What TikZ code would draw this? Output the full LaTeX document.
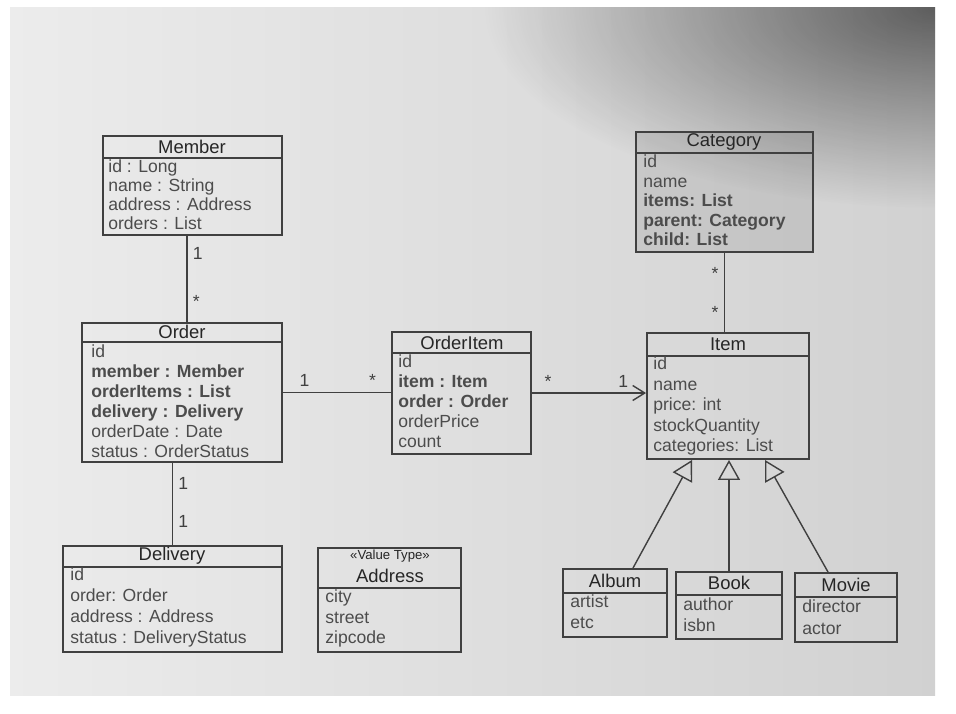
\documentclass[tikz,border=0pt]{standalone}
\usepackage{fontspec}
\setmainfont{Liberation Sans}
\usetikzlibrary{arrows.meta}
\usetikzlibrary{calc}
\usetikzlibrary{fit}
\usetikzlibrary{fadings}
\tikzfading[name=corner dark, inner color=transparent!0, outer color=transparent!100]

\begin{document}
\begin{tikzpicture}[x=0.02cm, y=-0.02cm,
    cls/.style={draw=black!75, line width=1.1pt, inner sep=0pt},
    ttl/.style={inner sep=0pt, text=black!85, font=\fontsize{10.5}{12}\selectfont},
    att/.style={anchor=west, inner sep=0pt, text height=7.5pt, text depth=2pt, text=black!70, font=\fontsize{10}{12}\selectfont},
    mult/.style={inner sep=3pt, text=black!75, font=\fontsize{10}{12}\selectfont},
    link/.style={draw=black!75, line width=0.8pt},
    gen/.style={link, -{Triangle[open, length=4mm, width=4.4mm]}},
    nav/.style={link, -{Straight Barb[length=2.4mm, width=3mm]}}]

      % photo background
      \useasboundingbox (0,0) rectangle (956,713);
      \fill[white] (0,0) rectangle (956,713);
      \shade[left color=gray!15, right color=gray!36] (10,8) rectangle (935,695);
      \begin{scope}
        \clip (10,8) rectangle (935,695);
        \fill[black, fill opacity=.55, path fading=corner dark] (935,8) ellipse[x radius=9cm, y radius=4cm];
      \end{scope}

      % Member
      \node[cls, fit={(103,136) (282,235)}] (member) {};
      \draw[link] (member.west |- 0,158) -- (member.east |- 0,158);
      \node[ttl] (member-t) at (192,147) {Member};
      \foreach \a [count=\i from 0] in {id : Long, name : String, address : Address, orders : List}
        \node[att] (member-\i) at (108, 168+19*\i) {\a};

      % Order
      \node[cls, fit={(82,323) (282,462)}] (order) {};
      \draw[link] (order.west |- 0,342) -- (order.east |- 0,342);
      \node[ttl] (order-t) at (182,332) {Order};
      \foreach \a [count=\i from 0] in {id, {\textbf{member : Member}}, {\textbf{orderItems : List}}, {\textbf{delivery : Delivery}}, orderDate : Date, status : OrderStatus}
        \node[att] (order-\i) at (91, 353+20*\i) {\a};

      % OrderItem
      \node[cls, fit={(392,332) (531,454)}] (orderitem) {};
      \draw[link] (orderitem.west |- 0,353) -- (orderitem.east |- 0,353);
      \node[ttl] (orderitem-t) at (462,343) {OrderItem};
      \foreach \a [count=\i from 0] in {id, {\textbf{item : Item}}, {\textbf{order : Order}}, orderPrice, count}
        \node[att] (orderitem-\i) at (398, 363+20*\i) {\a};

      % Category
      \node[cls, fill=black, fill opacity=.08, fit={(636,132) (813,252)}] (category) {};
      \draw[link] (category.west |- 0,153) -- (category.east |- 0,153);
      \node[ttl] (category-t) at (724,142) {Category};
      \foreach \a [count=\i from 0] in {id, name, {\textbf{items: List}}, {\textbf{parent: Category}}, {\textbf{child: List}}}
        \node[att] (category-\i) at (643, 163+19.5*\i) {\a};

      % Item
      \node[cls, fit={(647,333) (809,459)}] (item) {};
      \draw[link] (item.west |- 0,356) -- (item.east |- 0,356);
      \node[ttl] (item-t) at (728,344) {Item};
      \foreach \a [count=\i from 0] in {id, name, price: int, stockQuantity, categories: List}
        \node[att] (item-\i) at (653, 365+20.5*\i) {\a};

      % Delivery
      \node[cls, fit={(63,546) (282,652)}] (delivery) {};
      \draw[link] (delivery.west |- 0,567) -- (delivery.east |- 0,567);
      \node[ttl] (delivery-t) at (172,556) {Delivery};
      \foreach \a [count=\i from 0] in {id, order: Order, address : Address, status : DeliveryStatus}
        \node[att] (delivery-\i) at (70, 576+21*\i) {\a};

      % Address
      \node[cls, fit={(318,548) (461,652)}] (address) {};
      \draw[link] (address.west |- 0,588) -- (address.east |- 0,588);
      \node[ttl, font=\fontsize{7.5}{9}\selectfont] (address-s) at (390,556) {«Value Type»};
      \node[ttl] (address-t) at (390,576) {Address};
      \foreach \a [count=\i from 0] in {city, street, zipcode}
        \node[att] (address-\i) at (325, 598+20.5*\i) {\a};

      % Album, Book, Movie
      \node[cls, fit={(563,569) (667,637)}] (album) {};
      \draw[link] (album.west |- 0,593) -- (album.east |- 0,593);
      \node[ttl] (album-t) at (615,581) {Album};
      \foreach \a [count=\i from 0] in {artist, etc}
        \node[att] (album-\i) at (570, 603+21*\i) {\a};

      \node[cls, fit={(676,572) (782,639)}] (book) {};
      \draw[link] (book.west |- 0,595) -- (book.east |- 0,595);
      \node[ttl] (book-t) at (729,583) {Book};
      \foreach \a [count=\i from 0] in {author, isbn}
        \node[att] (book-\i) at (683, 606+21*\i) {\a};

      \node[cls, fit={(795,573) (897,642)}] (movie) {};
      \draw[link] (movie.west |- 0,597) -- (movie.east |- 0,597);
      \node[ttl] (movie-t) at (846,585) {Movie};
      \foreach \a [count=\i from 0] in {director, actor}
        \node[att] (movie-\i) at (802, 608+22*\i) {\a};

      % associations
      \draw[link] (member.south -| 187,0) -- (order.north -| 187,0)
        node[mult, pos=.2, right] (m1) {1} node[mult, pos=.76, right] (m2) {*};
      \draw[link] (delivery.north |- order.south) -- (delivery.north)
        node[mult, pos=.25, right] (m3) {1} node[mult, pos=.71, right] (m4) {1};
      \draw[link] (order.east) -- (order.east -| orderitem.west)
        node[mult, pos=.2, above] (m5) {1} node[mult, pos=.83, above] (m6) {*};
      \draw[nav] (orderitem.east) -- (orderitem.east -| item.west)
        node[mult, pos=.14, above] (m7) {*} node[mult, pos=.8, above] (m8) {1};
      \draw[link] (category.south) -- (category.south |- item.north)
        node[mult, pos=.26, left] (m9) {*} node[mult, pos=.75, left] (m10) {*};

      % generalization
      \draw[gen] ($(album.north)+(18,0)$) -- ($(item.south)+(-36,0)$);
      \draw[gen] (book.north) -- (book.north |- item.south);
      \draw[gen] ($(movie.north)+(-18,0)$) -- ($(item.south)+(37,0)$);
    \end{tikzpicture}
\end{document}
